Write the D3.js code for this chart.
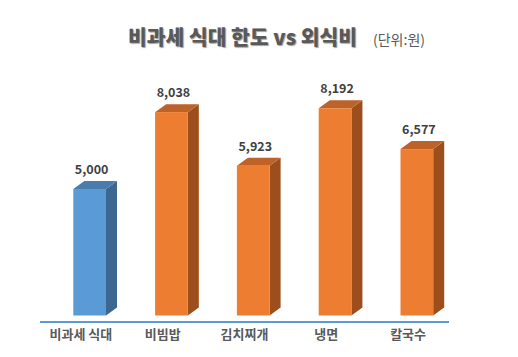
<!DOCTYPE html>
<html><head><meta charset="utf-8">
<script src="https://cdn.jsdelivr.net/npm/d3@7"></script>
<style>
html,body{margin:0;padding:0;background:#fff;}
svg{display:block;font-family:"Noto Sans CJK KR","Noto Sans",sans-serif;}
</style></head>
<body>
<svg id="chart" width="518" height="357"></svg>
<script>
const categories = ["비과세 식대","비빔밥","김치찌개","냉면","칼국수"];
const values = [5000, 8038, 5923, 8192, 6577];
const titleMain = "비과세 식대 한도 vs 외식비";
const titleUnit = "(단위:원)";

const svg = d3.select("#chart");
const W = 518, H = 357;
svg.append("rect").attr("width",W).attr("height",H).attr("fill","#fff");

const x = d3.scaleBand().domain(categories).range([40,449]).padding(0);
const y = d3.scaleLinear().domain([0,10000]).range([315.5,62.5]);
const bw = x.bandwidth();
const dx = 11, dy = 8;

const colors = i => i===0
  ? {front:"#5B9BD5", side:"#3B6791", top:"#4A7DAE"}
  : {front:"#ED7D31", side:"#9C4E1D", top:"#BD6228"};

const g = svg.append("g");
categories.forEach((c,i)=>{
  const v = values[i];
  const x0 = x(c) + bw*0.407;
  const w = bw*0.4;
  const yt = y(v), yb = y(0);
  const col = colors(i);
  g.append("path").attr("d",`M${x0+w},${yt} L${x0+w+dx},${yt-dy} L${x0+w+dx},${yb-dy} L${x0+w},${yb} Z`).attr("fill",col.side);
  g.append("path").attr("d",`M${x0},${yt} L${x0+dx},${yt-dy} L${x0+w+dx},${yt-dy} L${x0+w},${yt} Z`).attr("fill",col.top);
  g.append("rect").attr("x",x0).attr("y",yt).attr("width",w).attr("height",yb-yt).attr("fill",col.front);
  g.append("text").attr("x",x0+w/2+2).attr("y",yt-15).attr("text-anchor","middle")
    .attr("font-size",12.5).attr("font-weight","bold").attr("fill","#404040")
    .text(d3.format(",")(v));
});

svg.append("line").attr("x1",40).attr("x2",449).attr("y1",322).attr("y2",322)
  .attr("stroke","#5B9BD5").attr("stroke-width",2);

const xAxis = svg.append("g").attr("transform","translate(0,322)")
  .call(d3.axisBottom(x).tickSize(0).tickPadding(8));
xAxis.select(".domain").remove();
xAxis.selectAll("text").attr("font-size",13).attr("font-weight","bold").attr("fill","#595959")
  .attr("font-family","'Noto Sans CJK KR',sans-serif");

const t = svg.append("text").attr("x",128).attr("y",45).attr("font-size",20.5).attr("font-weight",900)
  .attr("textLength",229).attr("lengthAdjust","spacingAndGlyphs");
t.append("tspan").attr("fill","#595959").attr("style","text-shadow:1px 1px 1px #a0a0a0").text(titleMain);
svg.append("text").attr("x",373).attr("y",45).attr("font-size",14).attr("fill","#595959").text(titleUnit);
</script>
</body></html>
